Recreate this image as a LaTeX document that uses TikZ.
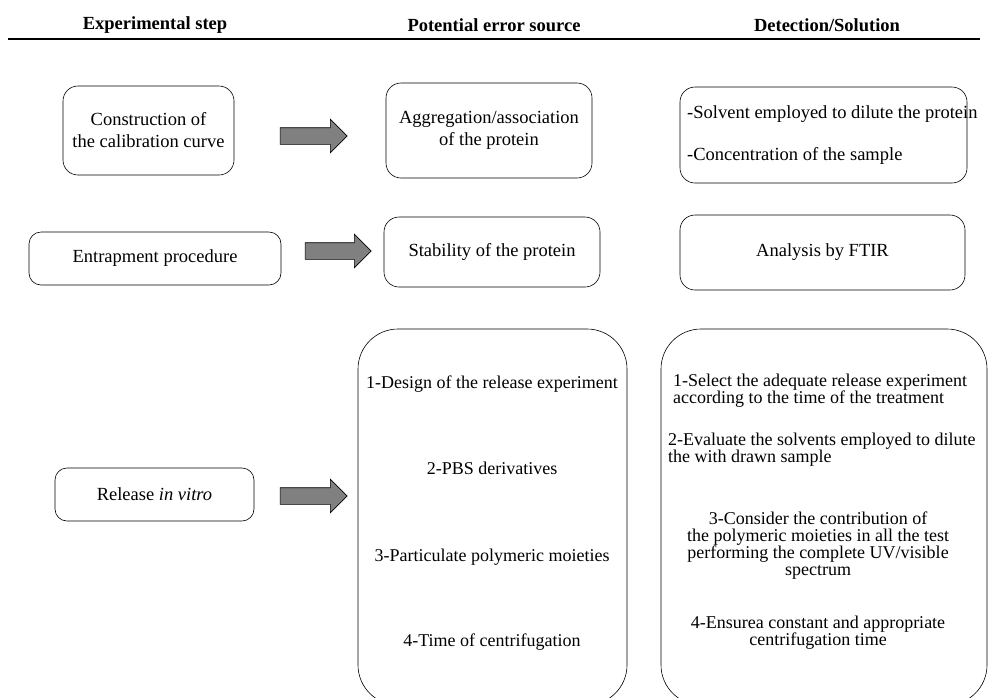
\documentclass[tikz,border=0pt]{standalone}
\usepackage{fontspec}
\setmainfont{Liberation Serif}
\usetikzlibrary{shapes.arrows}

\tikzset{
  roundbox/.style={draw, semithick, rounded corners=15pt, inner sep=0pt},
  bigbox/.style={draw, semithick, rounded corners=40pt, inner sep=0pt},
  blockarrow/.style={single arrow, draw, semithick, fill=gray, inner sep=0pt,
    single arrow head extend=8.5pt, single arrow head indent=0pt, minimum height=67pt},
  headtxt/.style={font=\fontsize{18.5}{22}\selectfont\bfseries, inner sep=0pt},
  boxtxt/.style={font=\fontsize{18.5}{22}\selectfont, align=center, inner sep=0pt},
  itemtxt/.style={font=\fontsize{18}{17}\selectfont, inner sep=0pt}
}

\begin{document}
\begin{tikzpicture}[x=1pt,y=-1pt]
    \useasboundingbox (0,0) rectangle (988,697);

    % Titres des colonnes
    \node[headtxt] (hstep) at (155,25) {Experimental step};
    \node[headtxt] (herror) at (494,25) {Potential error source};
    \node[headtxt] (hsol) at (827,25) {Detection/Solution};
    \draw[line width=2pt] (8,39) -- (980,39);

    % Ligne 1 : courbe de calibration
    \node[roundbox, minimum width=171pt, minimum height=89pt] (calib) at (148.5,130.5) {};
    \node[boxtxt] at (calib) {Construction of\\the calibration curve};
    \node[blockarrow] (arrcalib) at (309.5,136) {\rule{0pt}{16pt}};
    \node[roundbox, minimum width=206pt, minimum height=95pt] (aggreg) at (489,130.5) {};
    \node[boxtxt] at (aggreg) {Aggregation/association\\of the protein};
    \node[roundbox, minimum width=287pt, minimum height=96pt] (solvent) at (823.5,135) {};
    \node[boxtxt, align=left, anchor=west] at (687,135) {-Solvent employed to dilute the protein\\[20pt]-Concentration of the sample};

    % Ligne 2 : piegeage
    \node[roundbox, rounded corners=12pt, minimum width=252pt, minimum height=53pt] (entrap) at (155,258.5) {};
    \node[boxtxt] at (entrap) {Entrapment procedure};
    \node[blockarrow, minimum height=66pt] (arrentrap) at (334,251) {\rule{0pt}{16pt}};
    \node[roundbox, minimum width=216pt, minimum height=70pt] (stab) at (492,252) {};
    \node[boxtxt] at (stab) {Stability of the protein};
    \node[roundbox, minimum width=285pt, minimum height=75pt] (ftir) at (822.5,252.5) {};
    \node[boxtxt] at (ftir) {Analysis by FTIR};

    % Ligne 3 : liberation in vitro
    \node[roundbox, rounded corners=12pt, minimum width=199pt, minimum height=53pt] (release) at (154.5,494.5) {};
    \node[boxtxt] at (release) {Release \textit{in vitro}};
    \node[blockarrow] (arrrelease) at (309.5,496) {\rule{0pt}{16pt}};
    \node[bigbox, minimum width=269pt, minimum height=376pt] (errors) at (492.5,517) {};
    \node[itemtxt] (err1) at (492,384) {1-Design of the release experiment};
    \node[itemtxt] (err2) at (492,468) {2-PBS derivatives};
    \node[itemtxt] (err3) at (492,557) {3-Particulate polymeric moieties};
    \node[itemtxt] (err4) at (492,642) {4-Time of centrifugation};
    \node[bigbox, minimum width=326pt, minimum height=376pt] (solutions) at (824,517) {};
    \node[itemtxt, align=left, anchor=west] (sol1) at (673,391) {1-Select the adequate release experiment\\according to the time of the treatment};
    \node[itemtxt, align=left, anchor=west] (sol2) at (668,450) {2-Evaluate the solvents employed to dilute\\the with drawn sample};
    \node[itemtxt, align=center] (sol3) at (818,546) {3-Consider the contribution of\\the polymeric moieties in all the test\\performing the complete UV/visible\\spectrum};
    \node[itemtxt, align=center] (sol4) at (818,633) {4-Ensurea constant and appropriate\\centrifugation time};

\end{tikzpicture}
\end{document}
